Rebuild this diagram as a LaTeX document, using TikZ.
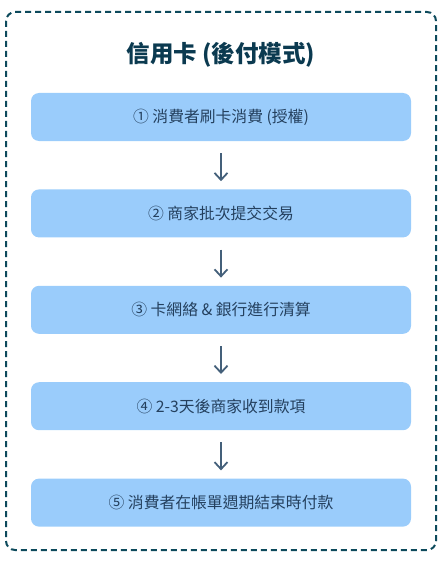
\documentclass[tikz,border=0pt]{standalone}
\usepackage{fontspec}
\setmainfont{Noto Sans CJK TC}
\usetikzlibrary{positioning,arrows.meta}
\definecolor{framecol}{HTML}{0D4A5C}
\definecolor{titlecol}{HTML}{0B3A50}
\definecolor{boxcol}{HTML}{9ACCFB}
\definecolor{textcol}{HTML}{24405E}
\definecolor{arrowcol}{HTML}{44607A}

\begin{document}
\begin{tikzpicture}[x=1pt,y=-1pt,
  titlenode/.style={font=\fontsize{23.5}{26}\selectfont\bfseries,text=titlecol},
  stepbox/.style={fill=boxcol,rounded corners=8pt,minimum width=380pt,minimum height=48pt,
    font=\fontsize{15.8}{18}\selectfont,text=textcol,inner sep=0pt},
  flow/.style={arrowcol,line width=1.8pt,-{Straight Barb[length=7pt,width=13pt]},
    shorten <=12pt,shorten >=8pt}]

\useasboundingbox (0,0) rectangle (446,567);
\draw[framecol,line width=2pt,dash pattern=on 6pt off 4pt,rounded corners=9pt] (6,12) rectangle (436,550);

\node[titlenode] (T) at (221,55) {信用卡 (後付模式)};
\node[stepbox] (S1) at (221,117) {① 消費者刷卡消費 (授權)};
\node[stepbox,below=48pt of S1] (S2) {② 商家批次提交交易};
\node[stepbox,below=48pt of S2] (S3) {③ 卡網絡 \& 銀行進行清算};
\node[stepbox,below=48pt of S3] (S4) {④ 2-3天後商家收到款項};
\node[stepbox,below=48pt of S4] (S5) {⑤ 消費者在帳單週期結束時付款};

\foreach \a/\b in {S1/S2,S2/S3,S3/S4,S4/S5}
  \draw[flow] (\a) -- (\b);

\end{tikzpicture}
\end{document}
